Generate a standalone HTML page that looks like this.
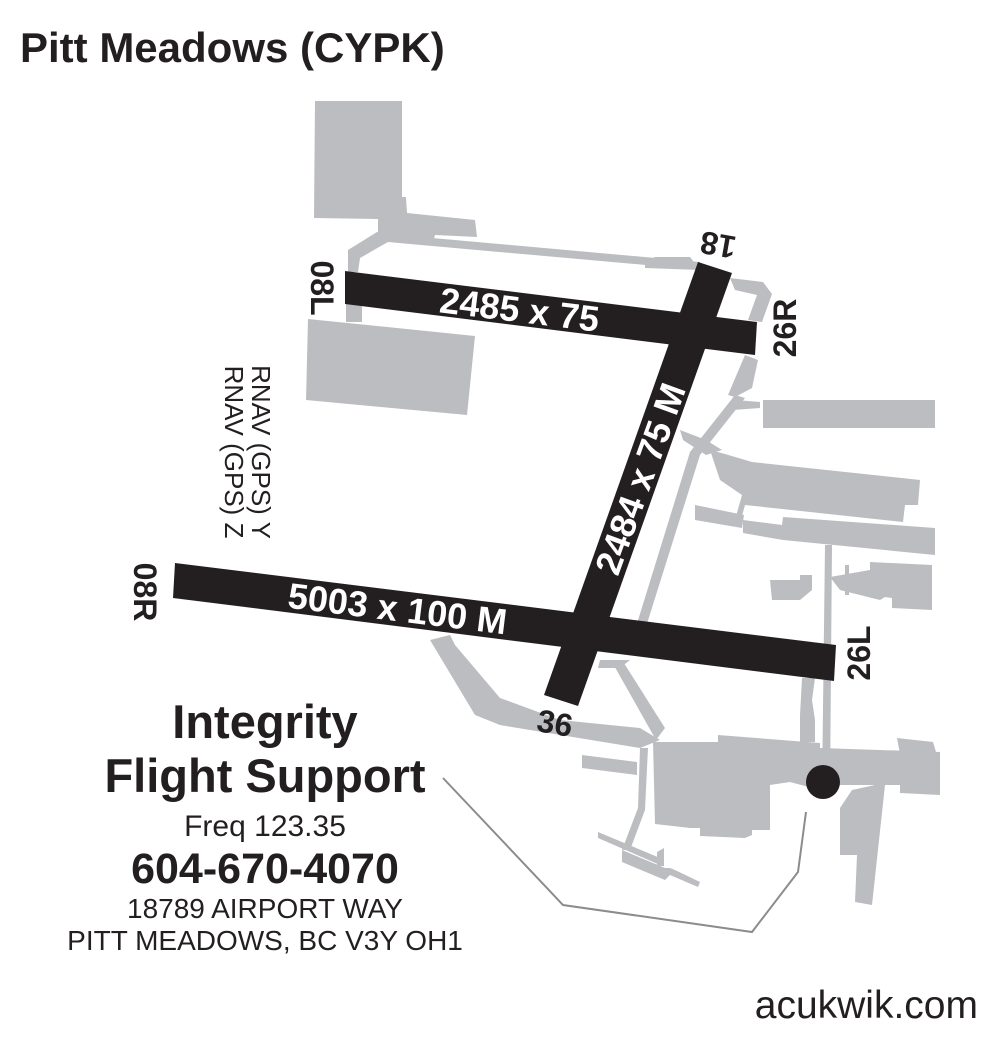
<!DOCTYPE html>
<html><head><meta charset="utf-8"><style>
html,body{margin:0;padding:0;background:#fff}
svg{display:block}
text{font-family:"Liberation Sans",Arial,sans-serif}
</style></head><body>
<svg width="1000" height="1043" viewBox="0 0 1000 1043" xmlns="http://www.w3.org/2000/svg">
<g fill="#bcbdc0" stroke="none">
<polygon points="315,101 402,101 402,197 406,197 407,213 475,220 477,237 435,235 433,243 410,240 390,238 378,234 378,219 314,218"/>
<polygon points="348,250 377,232 410,236 700,262 702,270 410,244 388,242 360,258 358,272 348,272"/>
<polygon points="645,262 655,257 690,257 700,270 645,268"/>
<polygon points="308,319 475,336 467,415 306,400"/>
<rect x="346" y="300" width="16" height="22"/>
<polygon points="730,278 763,282 772,294 762,322 748,320 757,295 735,290"/>
<polygon points="745,355 758,360 752,388 735,397 728,395"/>
<polygon points="735,395 745,398 700,455 645,630 635,630 690,452"/>
<polygon points="735,400 760,402 760,408 733,410"/>
<rect x="763" y="400" width="172" height="28"/>
<polygon points="680,430 706,440 722,450 706,455 683,440"/>
<polygon points="710,450 725,454 752,462 920,480 918,505 905,505 903,522 745,505 740,523 735,520 742,495 720,480"/>
<polygon points="695,505 744,515 742,528 695,520"/>
<polygon points="743,520 782,525 783,517 935,528 935,555 783,540 743,533"/>
<polygon points="825,545 832,545 830,790 822,790"/>
<polygon points="770,580 800,580 800,575 812,575 812,590 800,600 772,600"/>
<polygon points="830,577 870,570 870,562 932,565 932,610 892,608 892,598 885,597 880,600 872,598 860,595 840,590"/>
<rect x="845" y="565" width="4" height="30"/>
<polygon points="430,640 450,635 455,645 500,698 560,720 640,728 660,740 640,748 500,725 475,715"/>
<polygon points="612,662 622,660 665,728 656,740"/>
<polygon points="600,660 630,660 620,668 598,668"/>
<polygon points="802,678 815,678 812,700 815,720 815,742 800,742 800,715"/>
<polygon points="653,742 718,742 718,735 820,743 820,748 940,752 940,795 900,793 900,785 835,785 835,790 820,790 790,782 770,785 770,830 752,830 752,835 745,838 700,836 700,828 690,828 655,824"/>
<polygon points="875,785 885,785 872,905 855,902 857,855 840,855 840,808 852,790"/>
<polygon points="897,738 933,742 936,752 900,754"/>
<polygon points="582,755 637,762 637,775 582,768"/>
<polygon points="640,748 648,748 645,810 630,850 622,850 638,808"/>
<polygon points="598,832 660,858 660,865 598,838"/>
<polygon points="622,850 665,868 670,868 675,870 700,882 698,887 670,875 665,880 622,862"/>
<polygon points="657,852 664,848 664,866 657,866"/>
<polygon points="657,816 670,816 670,822 657,822"/>
</g>
<g fill="#231f20">
<polygon points="345,271 757,322 755,355 345,304"/>
<polygon points="175,563 836,645 834,681 173,598"/>
<polygon points="698,262 732,273 578,706 544,695"/>
</g>
<g fill="#fff" font-weight="bold" font-size="36">
<text transform="translate(518,322) rotate(7)" text-anchor="middle">2485 x 75</text>
<text transform="translate(396,621) rotate(7)" text-anchor="middle">5003 x 100 M</text>
<text transform="translate(652,483) rotate(-70)" text-anchor="middle">2484 x 75 M</text>
</g>
<g fill="#231f20" font-weight="bold" font-size="32">
<text transform="translate(311,288) rotate(90)" text-anchor="middle">08L</text>
<text transform="translate(796,328) rotate(-90)" text-anchor="middle">26R</text>
<text transform="translate(720,234) rotate(190)" text-anchor="middle">18</text>
<text transform="translate(553,734) rotate(10)" text-anchor="middle">36</text>
<text transform="translate(134,592) rotate(90)" text-anchor="middle">08R</text>
<text transform="translate(870,653) rotate(-90)" text-anchor="middle">26L</text>
</g>
<g fill="#231f20" font-size="26">
<text transform="translate(252,452) rotate(90)" text-anchor="middle">RNAV (GPS) Y</text>
<text transform="translate(225,452) rotate(90)" text-anchor="middle">RNAV (GPS) Z</text>
</g>
<circle cx="823" cy="782" r="17" fill="#231f20"/>
<polyline points="443,778 563,905 752,932 798,872 806,812" fill="none" stroke="#8c8c8c" stroke-width="2"/>
<text x="20" y="62" font-size="42" font-weight="bold" fill="#231f20">Pitt Meadows (CYPK)</text>
<g fill="#231f20" text-anchor="middle">
<text x="265" y="738" font-size="47" font-weight="bold">Integrity</text>
<text x="265" y="792" font-size="47" font-weight="bold">Flight Support</text>
<text x="265" y="836" font-size="30">Freq 123.35</text>
<text x="265" y="883" font-size="43" font-weight="bold">604-670-4070</text>
<text x="265" y="918" font-size="28">18789 AIRPORT WAY</text>
<text x="265" y="950" font-size="28">PITT MEADOWS, BC V3Y OH1</text>
</g>
<text x="978" y="1018" font-size="39" fill="#231f20" text-anchor="end">acukwik.com</text>
</svg>
</body></html>
